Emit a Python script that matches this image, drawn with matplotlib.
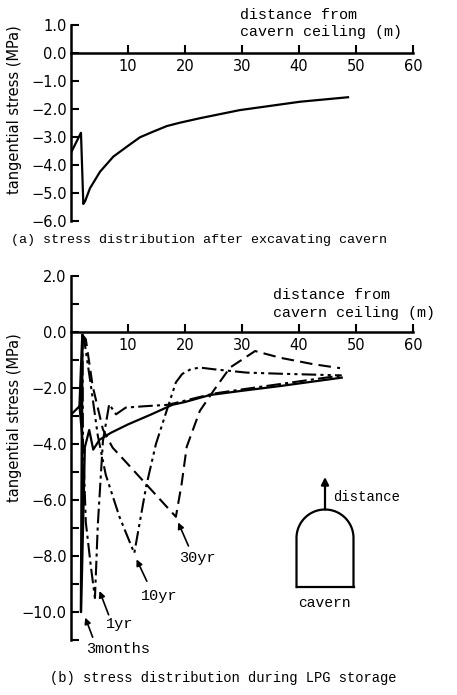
import matplotlib
matplotlib.use("Agg")
import matplotlib.pyplot as plt
import numpy as np

# ---------------- data ----------------
# (a) after excavating cavern
a_x = [0, 1.75, 2.16, 2.46, 3.33, 5.09, 7.43, 9.77, 12.1, 14.4, 16.8, 19.1, 22.6, 29.6, 40.2, 48.6]
a_y = [-3.56, -2.85, -5.39, -5.30, -4.83, -4.24, -3.70, -3.35, -3.01, -2.81, -2.61, -2.49, -2.33, -2.04, -1.74, -1.58]

# (b) during LPG storage
solid_x = [0, 1.5, 2.2, 3.2, 3.9, 5.0, 7.0, 10.0, 14.0, 17.8, 20.0, 24.4, 30.0, 36.7, 47.5]
solid_y = [-2.95, -2.65, -4.3, -3.5, -4.2, -3.85, -3.6, -3.3, -2.95, -2.6, -2.5, -2.25, -2.1, -1.93, -1.63]

m3_x = [1.5, 2.0, 1.75, 2.4]
m3_y = [-2.65, -0.1, -10.0, -4.2]

yr1_x = [2.0, 2.1, 2.6, 3.5, 4.2, 4.7, 5.6, 6.7, 7.9, 9.6, 13.0, 17.0, 20.0, 25.0, 30.0, 37.0, 47.5]
yr1_y = [-0.1, -3.9, -6.8, -8.4, -9.5, -6.9, -3.9, -2.58, -2.94, -2.7, -2.65, -2.6, -2.45, -2.2, -2.05, -1.85, -1.55]

yr10_x = [2.0, 2.3, 3.5, 4.7, 6.1, 8.5, 11.1, 13.2, 14.9, 16.8, 18.4, 19.5, 21.0, 22.6, 25.0, 30.8, 36.7, 47.5]
yr10_y = [-0.1, -0.26, -1.93, -3.7, -5.1, -6.6, -7.9, -5.5, -4.0, -2.8, -1.8, -1.5, -1.33, -1.27, -1.33, -1.45, -1.49, -1.55]

yr30_x = [2.0, 2.6, 3.8, 5.6, 7.3, 9.8, 13.2, 18.4, 19.4, 20.3, 22.6, 25.0, 27.9, 32.3, 36.7, 42.5, 47.2]
yr30_y = [-0.1, -0.26, -1.93, -3.48, -4.13, -4.68, -5.44, -6.6, -5.44, -4.1, -2.82, -2.1, -1.27, -0.68, -0.92, -1.15, -1.29]

a_yticks = [1, 0, -1, -2, -3, -4, -5, -6]
b_yticks = [2, 0, -2, -4, -6, -8, -10]
xticks = [10, 20, 30, 40, 50, 60]

# ---------------- layout ----------------
W, H = 457, 695
fig = plt.figure(figsize=(W / 100, H / 100), dpi=100)
MONO = ["Liberation Mono", "DejaVu Sans Mono"]
SANS = ["DejaVu Sans"]

def px2fig(x, y):
    return x / W, 1 - y / H

def fmt(t):
    s = "%.1f" % abs(t)
    return ("\u2212" + s) if t < 0 else s

def style_axes(ax, ylim, ymajor, yminor):
    ax.set_xlim(0, 60)
    ax.set_ylim(*ylim)
    for s in ("top", "right"):
        ax.spines[s].set_visible(False)
    ax.spines["bottom"].set_position(("data", 0))
    ax.spines["left"].set_position(("data", 0))
    for s in ("bottom", "left"):
        ax.spines[s].set_linewidth(1.8)
    ax.set_xticks(xticks)
    ax.set_xticklabels([str(t) for t in xticks], family=SANS, fontsize=10.5)
    ax.set_yticks(ymajor)
    ax.set_yticklabels([fmt(t) for t in ymajor], family=SANS, fontsize=10.5)
    ax.set_yticks(yminor, minor=True)
    ax.tick_params(axis="both", which="both", direction="in", length=6, width=1.5, pad=3)
    ax.tick_params(axis="x", which="major", pad=4)
    ax.patch.set_visible(False)

# top axes
l, b0 = px2fig(71, 221)
ax1 = fig.add_axes([l, b0, 342 / W, 196 / H])
style_axes(ax1, (-6, 1), a_yticks, [])
ax1.plot(a_x, a_y, color="black", lw=1.6)
ax1.text(29.6, 1.05, "distance from\ncavern ceiling (m)", family=MONO, fontsize=10.8,
         ha="left", va="center", linespacing=1.3)

# bottom axes
l, b1 = px2fig(71, 640)
ax2 = fig.add_axes([l, b1, 342 / W, 364 / H])
style_axes(ax2, (-11, 2), b_yticks, list(range(-11, 3)))
ax2.plot(solid_x, solid_y, color="black", lw=1.6)
ax2.plot(m3_x, m3_y, color="black", lw=1.8)
ax2.plot(yr1_x, yr1_y, color="black", lw=1.5, linestyle=(0, (7, 2, 1.5, 2)))
ax2.plot(yr10_x, yr10_y, color="black", lw=1.5, linestyle=(0, (7, 2, 1.5, 2, 1.5, 2)))
ax2.plot(yr30_x, yr30_y, color="black", lw=1.5, linestyle=(0, (6, 3)))
ax2.text(35.4, 1.0, "distance from\ncavern ceiling (m)", family=MONO, fontsize=10.8,
         ha="left", va="center", linespacing=1.3)

# annotations
labels = [("3months", 8.25, -11.32, (2.5, -10.2), (3.8, -10.9)),
          ("1yr", 8.5, -10.44, (5.0, -9.25), (6.6, -10.1)),
          ("10yr", 15.4, -9.43, (11.5, -8.12), (13.3, -8.9)),
          ("30yr", 22.2, -8.06, (18.8, -6.8), (20.6, -7.64))]
for txt, tx, ty, head, tail in labels:
    ax2.text(tx, ty, txt, family=MONO, fontsize=11, ha="center", va="center", clip_on=False)
    ax2.annotate("", xy=head, xytext=tail, annotation_clip=False,
                 arrowprops=dict(arrowstyle="-|>", color="black", lw=1.2,
                                 mutation_scale=9, shrinkA=0, shrinkB=0))

# cavern icon (drawn in pixel-based overlay)
ov = fig.add_axes([0, 0, 1, 1])
ov.set_xlim(0, W)
ov.set_ylim(H, 0)
ov.axis("off")
cx, cy, r = 325, 538, 28.5
t = np.linspace(np.pi, 0, 60)
arch_x = np.concatenate([[cx - r], cx + r * np.cos(t), [cx + r]])
arch_y = np.concatenate([[587], cy - r * np.sin(t), [587]])
ov.plot(arch_x, arch_y, color="black", lw=1.6)
ov.plot([cx - r, cx + r], [587, 587], color="black", lw=1.6)
ov.annotate("", xy=(cx, 477), xytext=(cx, cy - r), annotation_clip=False,
            arrowprops=dict(arrowstyle="-|>", color="black", lw=1.6,
                            mutation_scale=11, shrinkA=0, shrinkB=0))
ov.text(333, 497, "distance", family=MONO, fontsize=10, ha="left", va="center")
ov.text(324, 603, "cavern", family=MONO, fontsize=10.5, ha="center", va="center")

# titles and y labels
ov.text(199, 240, "(a) stress distribution after excavating cavern", family=MONO,
        fontsize=9.6, ha="center", va="center")
ov.text(223, 678, "(b) stress distribution during LPG storage", family=MONO,
        fontsize=9.9, ha="center", va="center")
ov.text(15, 110, "tangential stress (MPa)", family=SANS, fontsize=10.5, rotation=90,
        ha="center", va="center")
ov.text(15, 418, "tangential stress (MPa)", family=SANS, fontsize=10.5, rotation=90,
        ha="center", va="center")

fig.savefig("out.png", dpi=100)
